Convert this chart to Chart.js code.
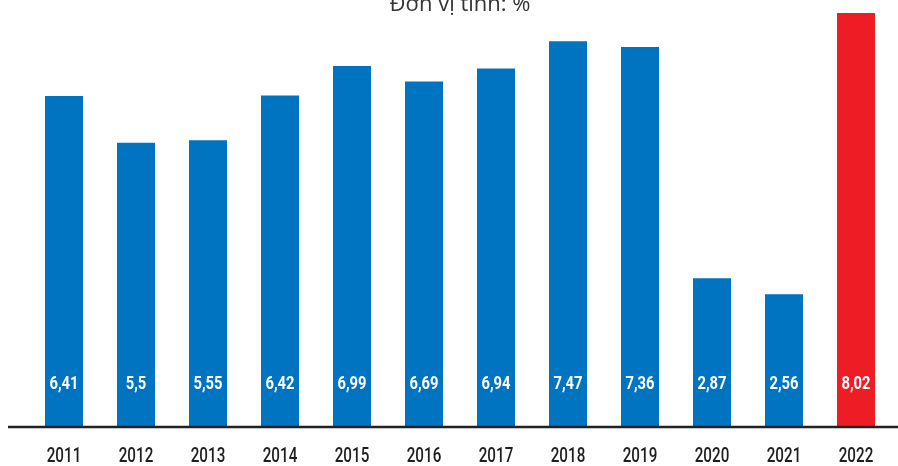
<!DOCTYPE html>
<html>
<head>
<meta charset="utf-8">
<script src="https://cdn.jsdelivr.net/npm/chart.js@4"></script>
<style>
  html, body { margin: 0; padding: 0; background: #fff; }
  #wrap { width: 898px; height: 466px; position: relative; }
</style>
</head>
<body>
<div id="wrap"><canvas id="chart"></canvas></div>
<script>
const years = ['2011', '2012', '2013', '2014', '2015', '2016', '2017', '2018', '2019', '2020', '2021', '2022']
const growth = [6.41, 5.5, 5.55, 6.42, 6.99, 6.69, 6.94, 7.47, 7.36, 2.87, 2.56, 8.02]
const unitTitle = 'Đơn vị tính: %'

const BLUE = '#0074c1'
const RED = '#ee1d25'
const barColors = years.map((y, i) => (i === years.length - 1 ? RED : BLUE))

const fmt = v => String(v).replace('.', ',')

// no condensed face installed, so squeeze the text horizontally
const narrowText = (ctx, text, x, y, sx) => {
  ctx.save()
  ctx.translate(x, y)
  ctx.scale(sx, 1)
  ctx.fillText(text, 0, 0)
  ctx.restore()
}

// baseline, year labels, unit caption and value labels low inside each bar
const overlay = {
  id: 'overlay',
  afterDatasetsDraw(chart) {
    const { ctx } = chart
    const xs = chart.scales.x
    const y0 = chart.scales.y.getPixelForValue(0)
    ctx.save()
    ctx.strokeStyle = '#222'
    ctx.lineWidth = 2.5
    ctx.beginPath()
    ctx.moveTo(8, y0 + 1)
    ctx.lineTo(898, y0 + 1)
    ctx.stroke()

    ctx.textAlign = 'center'
    ctx.textBaseline = 'middle'

    ctx.fillStyle = '#fff'
    ctx.font = 'bold 18px Roboto, sans-serif'
    chart.getDatasetMeta(0).data.forEach((bar, i) => {
      narrowText(ctx, fmt(growth[i]), bar.x, y0 - 42, 0.82)
    })

    ctx.fillStyle = '#1e1e1e'
    ctx.font = '500 20px Roboto, sans-serif'
    xs.ticks.forEach((t, i) => {
      narrowText(ctx, xs.getLabelForValue(t.value), xs.getPixelForTick(i), y0 + 31, 0.76)
    })

    ctx.fillStyle = '#333'
    ctx.font = '22px "Open Sans", "DejaVu Sans", sans-serif'
    ctx.textBaseline = 'alphabetic'
    ctx.fillText(unitTitle, 460, 11)
    ctx.restore()
  },
}

new Chart(document.getElementById('chart'), {
  type: 'bar',
  data: {
    labels: years,
    datasets: [{
      data: growth,
      backgroundColor: barColors,
      categoryPercentage: 1,
      barPercentage: 38 / 72,
    }],
  },
  options: {
    responsive: true,
    maintainAspectRatio: false,
    animation: false,
    layout: { padding: { top: 13, left: 28, right: 6, bottom: 0 } },
    plugins: { legend: { display: false }, tooltip: { enabled: false } },
    scales: {
      x: {
        grid: { display: false, drawTicks: false },
        border: { display: false },
        afterFit: s => { s.height = 40 },
        ticks: { display: false },
      },
      y: { display: false, min: 0, max: 8.02 },
    },
  },
  plugins: [overlay],
})
</script>
</body>
</html>
